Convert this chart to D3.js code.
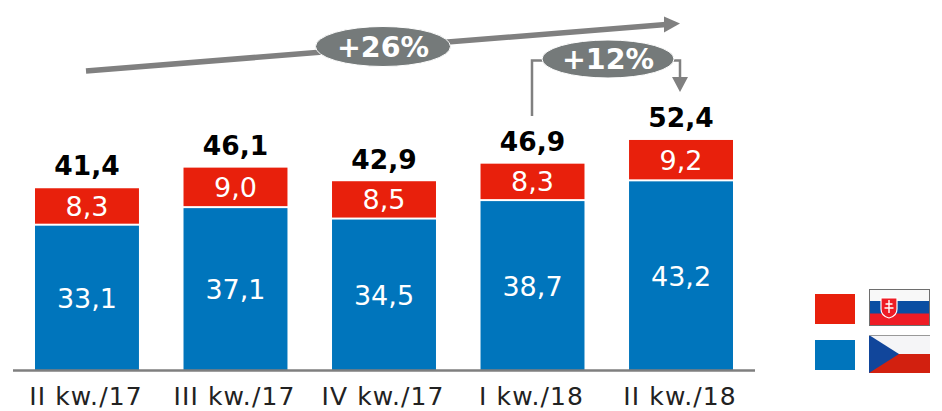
<!DOCTYPE html>
<html>
<head>
<meta charset="utf-8">
<script src="https://cdn.jsdelivr.net/npm/d3@7"></script>
<style>
    html, body { margin: 0; padding: 0; background: #fff; }
    svg { display: block; }
    text { font-family: "DejaVu Sans", sans-serif; }
    .domain { stroke: #7f7f7f; stroke-width: 2.5px; }
    .tick text { font-size: 25px; letter-spacing: 1.1px; fill: #222; }
</style>
</head>
<body>
<div id="chart"></div>
<script>
const categories = ['II kw./17', 'III kw./17', 'IV kw./17', 'I kw./18', 'II kw./18'];
const czech = [33.1, 37.1, 34.5, 38.7, 43.2];
const slovak = [8.3, 9.0, 8.5, 8.3, 9.2];
const totals = [41.4, 46.1, 42.9, 46.9, 52.4];
const seriesNames = ['czech', 'slovak'];

const width = 942, height = 411;
const baseY = 370;
const red = '#e8200c', blue = '#0075bc', grey = '#808080', oval = '#757a7a';

const fmt = d => d.toFixed(1).replace('.', ',');

const svg = d3.select('#chart').append('svg')
    .attr('width', width)
    .attr('height', height);

const x = d3.scaleBand()
    .domain(categories)
    .range([35, 733])
    .paddingInner(0.3)
    .paddingOuter(0);

const y = d3.scaleLinear()
    .domain([0, 60])
    .range([baseY, baseY - 60 * 4.39]);

const rows = categories.map((c, i) => ({ cat: c, czech: czech[i], slovak: slovak[i], total: totals[i] }));
const stacked = d3.stack().keys(seriesNames)(rows);
const colors = { czech: blue, slovak: red };

// 2px gap between the parts, 1px off each side of the join
const topGap = k => k === 'czech' ? 1 : 0;
const bottomGap = k => k === 'slovak' ? 1 : 0;

const groups = svg.selectAll('g.series')
    .data(stacked)
    .enter()
    .append('g')
    .attr('class', 'series');

groups.selectAll('rect')
    .data(s => s.map(d => ({ key: s.key, d })))
    .enter()
    .append('rect')
    .attr('x', p => x(p.d.data.cat))
    .attr('width', x.bandwidth())
    .attr('y', p => y(p.d[1]) + topGap(p.key))
    .attr('height', p => y(p.d[0]) - y(p.d[1]) - topGap(p.key) - bottomGap(p.key))
    .attr('fill', p => colors[p.key]);

groups.selectAll('text')
    .data(s => s.map(d => ({ key: s.key, d })))
    .enter()
    .append('text')
    .attr('x', p => x(p.d.data.cat) + x.bandwidth() / 2)
    .attr('y', p => (y(p.d[0]) + y(p.d[1]) + topGap(p.key) - bottomGap(p.key)) / 2 + 10)
    .attr('text-anchor', 'middle')
    .attr('fill', '#fff')
    .attr('font-size', 27)
    .text(p => fmt(p.d.data[p.key]));

svg.selectAll('text.total')
    .data(rows)
    .enter()
    .append('text')
    .attr('class', 'total')
    .attr('x', d => x(d.cat) + x.bandwidth() / 2)
    .attr('y', d => y(d.total) - 13)
    .attr('text-anchor', 'middle')
    .attr('font-size', 26.5)
    .attr('font-weight', 'bold')
    .attr('fill', '#000')
    .text(d => fmt(d.total));

// axis line runs wider than the bars so the domain is redrawn by hand
const axis = svg.append('g')
    .attr('transform', 'translate(0,' + baseY + ')')
    .call(d3.axisBottom(x).tickSize(0).tickPadding(17));
axis.select('.domain').attr('d', 'M13,0.5H755');
axis.selectAll('.tick text').attr('dx', -1);

// growth arrows
svg.append('line')
    .attr('x1', 86).attr('y1', 71)
    .attr('x2', 666).attr('y2', 24.5)
    .attr('stroke', grey).attr('stroke-width', 5.5);
svg.append('path')
    .attr('d', 'M680,23.5L664,16.5V32.5Z')
    .attr('fill', grey);
svg.append('path')
    .attr('d', 'M532,116V60.5H545M670,60.5H680V80')
    .attr('fill', 'none')
    .attr('stroke', grey).attr('stroke-width', 2.5);
svg.append('path')
    .attr('d', 'M680,92L672,77H688Z')
    .attr('fill', grey);

const bubbles = [
    { label: '+26%', cx: 383, cy: 46.5, rx: 67.5, ry: 20 },
    { label: '+12%', cx: 608, cy: 59, rx: 66, ry: 19 }
];
svg.selectAll('ellipse')
    .data(bubbles)
    .enter()
    .append('ellipse')
    .attr('cx', d => d.cx).attr('cy', d => d.cy)
    .attr('rx', d => d.rx).attr('ry', d => d.ry)
    .attr('fill', oval)
    .attr('stroke', '#fff').attr('stroke-width', 1);
svg.selectAll('text.bubble')
    .data(bubbles)
    .enter()
    .append('text')
    .attr('class', 'bubble')
    .attr('x', d => d.cx).attr('y', d => d.cy + 10)
    .attr('text-anchor', 'middle')
    .attr('font-size', 28.5)
    .attr('font-weight', 'bold')
    .attr('fill', '#fff')
    .text(d => d.label);

// legend
svg.append('rect').attr('x', 815).attr('y', 294).attr('width', 40).attr('height', 30).attr('fill', red);
svg.append('rect').attr('x', 815).attr('y', 340).attr('width', 40).attr('height', 30).attr('fill', blue);

// slovak flag
const sk = svg.append('g').attr('transform', 'translate(869,289)');
sk.append('rect').attr('width', 61).attr('height', 13).attr('fill', '#f8f8f8');
sk.append('rect').attr('y', 12).attr('width', 61).attr('height', 13).attr('fill', '#0b4ea2');
sk.append('rect').attr('y', 24.5).attr('width', 61).attr('height', 12.5).attr('fill', '#ee1c25');
sk.append('rect').attr('x', 0.5).attr('y', 0.5).attr('width', 60).attr('height', 36)
    .attr('fill', 'none').attr('stroke', '#6e6e6e').attr('stroke-width', 1);
sk.append('path')
    .attr('d', 'M12,9H28V20Q28,27 20,29Q12,27 12,20Z')
    .attr('fill', '#ee1c25').attr('stroke', '#fff').attr('stroke-width', 1.2);
sk.append('path')
    .attr('d', 'M20,11V24M16.5,15H23.5M15.5,19H24.5')
    .attr('stroke', '#fff').attr('stroke-width', 1.4).attr('fill', 'none');

// czech flag
const cz = svg.append('g').attr('transform', 'translate(869,335)');
cz.append('rect').attr('width', 61).attr('height', 19).attr('fill', '#f5f5f7');
cz.append('rect').attr('y', 19).attr('width', 61).attr('height', 19).attr('fill', '#d2200f');
cz.append('path').attr('d', 'M0,0L30,19L0,38Z').attr('fill', '#11469b');
cz.append('line').attr('x1', 0).attr('y1', 0.5).attr('x2', 61).attr('y2', 0.5)
    .attr('stroke', '#999').attr('stroke-width', 1);
</script>
</body>
</html>
